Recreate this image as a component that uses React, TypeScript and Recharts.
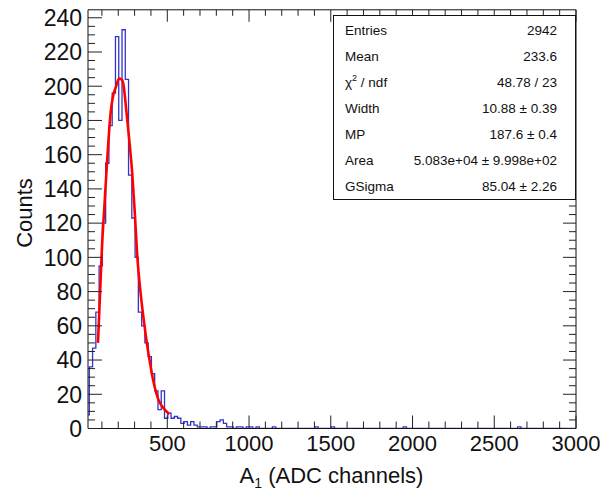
import { ComposedChart, Line, XAxis, YAxis } from "recharts";

// histogram: 20-wide bins, first edge at 3
const binWidth = 20;
const firstEdge = 3;
const lastEdge = 3003;
const peakCounts = [
  8, 36, 47, 68, 95, 120, 155, 177, 196, 229, 180, 233, 204, 148, 123, 100,
  68, 60, 50, 42, 32, 22, 11, 22, 6, 9, 6, 7, 6, 3, 4, 2, 4, 2, 1, 1, 1, 0,
  1, 1, 4, 5, 3, 1, 1, 0, 1, 1, 0, 1, 1, 0, 1, 0,
];
const tailEdges = [1143, 1403, 1503, 1943, 2643];
const tailCounts = [1, 1, 1, 1, 1];

// fit curve
const fitX = [76, 88, 99, 116, 133, 154, 170, 184, 205, 220, 231, 246, 266, 286, 300, 317, 337, 358, 378, 395, 414, 445, 476, 512];
const fitY = [50, 77, 103, 131, 158, 185, 195, 199, 204.5, 204, 201.5, 189, 170, 148.5, 128, 100, 79, 62, 48, 38, 28, 17, 12, 8.5];

const xMajor = [500, 1000, 1500, 2000, 2500, 3000];
const yMajor = [0, 20, 40, 60, 80, 100, 120, 140, 160, 180, 200, 220, 240];

const statsLabels = ["Entries", "Mean", "chi", "Width", "MP", "Area", "GSigma"];
const statsValues = ["2942", "233.6", "48.78 / 23", "10.88 \u00b1 0.39", "187.6 \u00b1 0.4", "5.083e+04 \u00b1 9.998e+02", "85.04 \u00b1 2.26"];

const nBins = (lastEdge - firstEdge) / binWidth;
const counts: number[] = new Array(nBins).fill(0);
peakCounts.forEach((c, i) => (counts[i] = c));
tailEdges.forEach((e, i) => (counts[(e - firstEdge) / binWidth] = tailCounts[i]));
const histData = counts.map((c, i) => ({ x: firstEdge + i * binWidth, y: c }));
histData.push({ x: lastEdge, y: counts[nBins - 1] });

const fitData = fitX.map((x, i) => ({ x, y: fitY[i] }));

const xTicks: number[] = [];
for (let v = 100; v <= 3000; v += 100) xTicks.push(v);
const yTicks: number[] = [];
for (let v = 0; v <= 240; v += 5) yTicks.push(v);

const FONT = "'Liberation Sans', Arial, Helvetica, sans-serif";
const TICK = "#222";

const BottomTick = ({ x, y, payload }: any) => {
  const major = xMajor.includes(payload.value);
  return (
    <g>
      <line x1={x} x2={x} y1={y} y2={y - (major ? 13 : 7)} stroke={TICK} />
      {major && (
        <text x={x} y={y + 22} textAnchor="middle" fontSize={22} fill="#111" fontFamily={FONT}>
          {payload.value}
        </text>
      )}
    </g>
  );
};

const TopTick = ({ x, y, payload }: any) => {
  const major = xMajor.includes(payload.value);
  return <line x1={x} x2={x} y1={y} y2={y + (major ? 12 : 6)} stroke={TICK} />;
};

const LeftTick = ({ x, y, payload }: any) => {
  const major = yMajor.includes(payload.value);
  return (
    <g>
      <line x1={x} x2={x + (major ? 14 : 7)} y1={y} y2={y} stroke={TICK} />
      {major && (
        <text x={x - 6} y={y + 8.3} textAnchor="end" fontSize={23} fill="#111" fontFamily={FONT}>
          {payload.value}
        </text>
      )}
    </g>
  );
};

const RightTick = ({ x, y, payload }: any) => {
  const major = yMajor.includes(payload.value);
  return <line x1={x} x2={x - (major ? 13 : 7)} y1={y} y2={y} stroke={TICK} />;
};

const axisCommon = {
  type: "number" as const,
  allowDataOverflow: true,
  interval: 0 as const,
  tickSize: 0,
  tickMargin: 0,
  tickLine: false,
  axisLine: { stroke: "#111" },
};

export default function App() {
  return (
    <div style={{ position: "absolute", left: 0, top: 0, width: 604, height: 496, background: "#fff" }}>
      <ComposedChart width={604} height={496} margin={{ top: 8.8, right: 27, bottom: 66.5, left: 87 }}>
        <XAxis
          {...axisCommon}
          dataKey="x"
          domain={[15, 3000]}
          ticks={xTicks}
          height={1}
          tick={(p: any) => <BottomTick {...p} />}
        />
        <XAxis
          {...axisCommon}
          xAxisId="top"
          orientation="top"
          dataKey="x"
          domain={[15, 3000]}
          ticks={xTicks}
          height={1}
          tick={(p: any) => <TopTick {...p} />}
        />
        <YAxis
          {...axisCommon}
          domain={[0, 244.65]}
          ticks={yTicks}
          width={1}
          tick={(p: any) => <LeftTick {...p} />}
        />
        <YAxis
          {...axisCommon}
          yAxisId="right"
          orientation="right"
          domain={[0, 244.65]}
          ticks={yTicks}
          width={1}
          tick={(p: any) => <RightTick {...p} />}
        />
        <Line
          data={histData}
          dataKey="y"
          type="stepAfter"
          stroke="#3434c8"
          strokeWidth={1.3}
          dot={false}
          activeDot={false}
          isAnimationActive={false}
        />
        <Line
          data={fitData}
          dataKey="y"
          type="monotone"
          stroke="#ff0000"
          strokeWidth={2.6}
          dot={false}
          activeDot={false}
          isAnimationActive={false}
        />
      </ComposedChart>
      <svg
        width={604}
        height={496}
        style={{ position: "absolute", left: 0, top: 0, pointerEvents: "none" }}
        fontFamily={FONT}
      >
        <text x={31.5} y={213} transform="rotate(-90 31.5 213)" textAnchor="middle" fontSize={22} fill="#111">
          Counts
        </text>
        <text x={331.5} y={483} textAnchor="middle" fontSize={22} fill="#111">
          A<tspan fontSize={14} dy={5}>1</tspan>
          <tspan dy={-5}> (ADC channels)</tspan>
        </text>
        <rect x={333.5} y={15.5} width={242} height={184} fill="#fff" stroke="#111" />
        {statsLabels.map((label, i) => (
          <g key={label}>
            <text x={345} y={30 + i * 26 + 5} fontSize={13.5} fill="#111">
              {label === "chi" ? (
                <>
                  {"\u03c7"}
                  <tspan fontSize={9} dy={-6}>2</tspan>
                  <tspan dy={6}> / ndf</tspan>
                </>
              ) : (
                label
              )}
            </text>
            <text x={557} y={30 + i * 26 + 5} textAnchor="end" fontSize={13.5} fill="#111">
              {statsValues[i]}
            </text>
          </g>
        ))}
      </svg>
    </div>
  );
}
